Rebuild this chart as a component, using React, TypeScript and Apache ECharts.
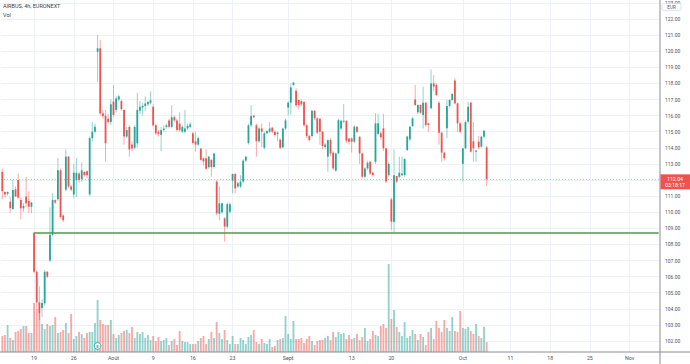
import React, { useEffect, useRef } from 'react';
import * as echarts from 'echarts';

// 4h candles, Airbus EURONEXT, [open, high, low, close]
const ohlc: number[][] = [
  [112.5, 112.7, 110.8, 111.3], [111.25, 111.3, 110.9, 111.1], [111.15, 111.3, 111.05, 111.25],
  [110.65, 110.95, 109.95, 110.25], [110.2, 112.0, 110.15, 111.38], [111.42, 111.6, 110.95, 110.97],
  [112.0, 112.4, 110.85, 110.9], [110.76, 110.9, 109.55, 110.24], [110.24, 110.55, 110.03, 110.39],
  [110.97, 112.2, 110.3, 110.55], [110.7, 111.3, 109.95, 110.34], [110.34, 110.65, 109.95, 110.6],
  [108.73, 108.73, 106.2, 106.3], [106.3, 106.4, 104.0, 104.4], [104.4, 105.4, 103.3, 103.7],
  [104.05, 104.6, 103.5, 104.36], [104.34, 106.4, 104.2, 106.3], [106.3, 106.35, 105.9, 106.0],
  [107.0, 110.3, 106.9, 108.6], [108.6, 111.2, 108.5, 110.76], [110.75, 110.8, 110.5, 110.6],
  [110.8, 113.35, 110.7, 112.6], [112.6, 112.7, 109.6, 109.7], [109.8, 109.85, 109.4, 109.5],
  [111.4, 113.9, 111.3, 113.45], [113.45, 113.5, 111.5, 111.6], [111.6, 111.7, 111.3, 111.4],
  [111.1, 113.0, 110.9, 112.45], [112.0, 113.35, 110.95, 112.45], [112.4, 112.5, 111.8, 112.0],
  [112.05, 113.1, 111.9, 112.6], [112.5, 112.55, 112.2, 112.3], [112.55, 112.6, 112.1, 112.3],
  [111.1, 114.7, 111.0, 114.6], [114.6, 115.6, 114.4, 115.0], [115.0, 115.5, 114.9, 115.3],
  [119.97, 121.0, 118.1, 120.18], [120.18, 120.7, 116.0, 116.14], [116.14, 116.35, 115.8, 115.97],
  [116.0, 116.35, 113.14, 114.28], [115.8, 116.1, 115.5, 115.6], [115.6, 117.0, 115.4, 116.7],
  [116.87, 117.9, 115.9, 116.04], [116.35, 117.2, 116.2, 117.07], [117.0, 117.3, 116.9, 117.2],
  [116.9, 117.0, 116.3, 116.4], [116.35, 116.4, 114.2, 114.7], [114.7, 115.3, 114.6, 115.1],
  [115.3, 115.4, 113.45, 113.9], [114.2, 114.4, 113.8, 113.95], [114.0, 115.4, 113.9, 115.3],
  [114.28, 117.4, 114.0, 116.35], [116.3, 116.9, 116.1, 116.55], [116.5, 116.8, 116.0, 116.6],
  [116.6, 117.2, 116.3, 116.75], [116.7, 116.9, 116.6, 116.85], [116.8, 117.5, 116.7, 116.95],
  [116.55, 116.7, 115.3, 115.4], [115.4, 115.5, 114.8, 114.9], [115.0, 115.1, 114.7, 114.85],
  [114.8, 115.3, 113.8, 115.1], [115.1, 115.4, 115.0, 115.2], [115.3, 115.5, 115.2, 115.4],
  [115.7, 115.8, 115.2, 115.3], [115.3, 116.65, 115.2, 115.9], [115.9, 116.0, 115.6, 115.7],
  [115.7, 115.8, 115.0, 115.1], [115.5, 116.2, 115.0, 115.1], [115.0, 115.4, 114.9, 115.3],
  [115.0, 116.35, 114.9, 115.2], [115.2, 115.5, 115.1, 115.37], [115.3, 115.6, 115.2, 115.46],
  [114.9, 115.0, 114.2, 114.3], [114.4, 115.0, 113.75, 114.2], [114.2, 114.7, 114.1, 114.6],
  [113.95, 114.0, 113.2, 113.25], [113.35, 113.4, 112.9, 113.15], [113.35, 113.9, 112.6, 112.7],
  [112.8, 113.5, 112.7, 113.45], [113.25, 113.3, 112.2, 112.8], [112.8, 113.7, 112.7, 113.65],
  [111.9, 112.0, 109.8, 109.93], [109.9, 111.6, 109.5, 110.55], [110.0, 110.6, 109.9, 110.55],
  [109.62, 109.7, 108.17, 109.1], [109.1, 110.6, 109.0, 110.5], [110.03, 110.6, 109.9, 110.5],
  [111.96, 112.4, 111.17, 112.37], [112.37, 112.45, 111.17, 111.48], [111.6, 111.9, 111.5, 111.8],
  [111.6, 112.3, 111.5, 111.9], [111.9, 113.3, 111.8, 113.2], [113.2, 113.5, 113.1, 113.45],
  [114.3, 115.5, 114.2, 115.4], [115.4, 116.65, 115.3, 115.97], [116.0, 116.05, 115.85, 115.9],
  [115.4, 115.5, 113.45, 114.4], [114.4, 115.3, 114.3, 115.2], [115.2, 115.5, 114.05, 115.0],
  [114.0, 115.0, 113.9, 114.9], [114.9, 115.1, 114.85, 115.05], [115.0, 115.6, 114.9, 115.2],
  [115.25, 115.3, 114.9, 115.0], [115.0, 115.1, 114.7, 114.8], [114.85, 115.0, 114.4, 114.95],
  [114.5, 114.6, 113.9, 114.0], [114.03, 115.25, 113.95, 115.2], [115.2, 115.8, 115.1, 115.7],
  [116.5, 116.9, 116.0, 116.8], [116.8, 118.0, 116.05, 117.75], [117.9, 118.1, 117.85, 118.05],
  [117.55, 117.7, 116.5, 116.65], [116.97, 117.0, 116.4, 116.65], [116.9, 117.0, 116.6, 116.7],
  [116.85, 116.9, 115.3, 115.4], [115.4, 115.5, 114.6, 114.73], [114.73, 114.8, 114.4, 114.48],
  [114.73, 116.35, 114.6, 116.3], [116.3, 116.35, 115.7, 115.83], [115.83, 115.9, 114.85, 114.94],
  [115.8, 115.85, 114.2, 115.0], [115.0, 115.05, 113.9, 114.11], [114.05, 114.3, 113.9, 114.2],
  [113.45, 114.5, 112.52, 114.48], [114.48, 114.6, 113.5, 113.65], [113.7, 113.8, 112.6, 112.72],
  [112.58, 113.7, 112.52, 113.65], [113.65, 115.8, 113.6, 115.72], [115.2, 115.75, 115.1, 115.68],
  [115.62, 116.72, 115.55, 115.68], [115.68, 115.7, 114.3, 114.44], [114.58, 114.6, 114.2, 114.38],
  [114.58, 114.65, 113.7, 114.38], [114.38, 115.4, 114.3, 115.31], [115.31, 115.35, 114.9, 115.0],
  [114.69, 114.7, 113.0, 113.65], [113.65, 113.7, 112.1, 112.2], [112.2, 112.8, 112.1, 112.72],
  [112.72, 113.2, 112.6, 113.07], [113.13, 113.2, 112.3, 112.41], [112.45, 112.5, 112.2, 112.3],
  [113.13, 116.15, 113.0, 115.52], [114.86, 116.1, 114.8, 115.52], [114.9, 115.0, 114.5, 114.65],
  [115.21, 116.1, 113.8, 113.97], [113.97, 114.0, 111.8, 111.9], [112.3, 113.1, 112.2, 113.0],
  [110.8, 110.9, 108.9, 109.41], [109.41, 113.9, 108.73, 112.3], [112.25, 112.25, 111.8, 111.9],
  [112.2, 113.45, 112.1, 112.45], [112.3, 113.45, 112.25, 112.4], [112.3, 113.35, 112.2, 113.3],
  [113.86, 114.75, 113.8, 114.7], [114.53, 115.35, 114.4, 115.31], [115.35, 115.9, 115.3, 115.83],
  [117.0, 117.9, 116.6, 116.66], [116.2, 116.7, 116.1, 116.66], [116.66, 116.7, 116.1, 116.18],
  [116.04, 117.8, 115.2, 116.8], [116.8, 116.85, 115.3, 115.42], [115.52, 115.55, 115.0, 115.42],
  [116.45, 118.87, 116.4, 118.0], [118.0, 118.5, 117.5, 117.8], [117.9, 118.0, 117.2, 117.28],
  [116.8, 116.9, 114.2, 114.94], [114.94, 115.0, 113.13, 113.7], [113.7, 113.75, 113.2, 113.35],
  [115.21, 116.97, 114.6, 116.6], [116.6, 117.0, 116.5, 116.97], [116.97, 117.4, 116.9, 117.34],
  [118.17, 118.32, 116.7, 116.76], [116.76, 116.8, 115.0, 115.52], [115.52, 115.6, 114.9, 115.0],
  [113.0, 114.0, 111.9, 113.97], [113.97, 115.7, 113.9, 115.6], [115.62, 116.86, 115.5, 116.55],
  [116.8, 116.86, 113.7, 113.76], [114.4, 115.6, 113.13, 113.97], [113.76, 113.86, 113.13, 113.83],
  [114.38, 114.73, 113.9, 114.03], [114.07, 114.75, 114.0, 114.69], [114.69, 115.1, 114.6, 115.06],
  [114.03, 114.1, 111.63, 112.04],
];

// volume (relative units, 10k shares)
const volumes: number[] = [
  16, 17, 27, 14, 12, 20, 21, 23, 26, 26, 19, 19,
  49, 43, 38, 28, 23, 28, 26, 27, 35, 19, 20, 22,
  29, 19, 38, 13, 16, 20, 18, 14, 19, 20, 20, 29,
  52, 32, 28, 27, 27, 32, 18, 14, 17, 19, 21, 22,
  19, 25, 14, 20, 18, 20, 14, 17, 12, 16, 11, 15,
  11, 12, 14, 7, 11, 13, 7, 21, 11, 10, 10, 8,
  8, 8, 11, 14, 16, 8, 13, 20, 14, 30, 19, 13,
  22, 12, 8, 16, 8, 8, 14, 12, 8, 15,
  17, 22, 10, 8, 13, 9, 8, 13, 5, 6, 12, 13,
  14, 36, 18, 13, 31, 13, 13, 14, 9, 13, 16, 11,
  7, 11, 12, 12, 14, 16, 12, 20, 15, 20, 18, 19,
  13, 17, 13, 14, 18, 12, 15, 24, 11, 13, 21, 17,
  16, 26, 28, 24, 88, 33, 42, 25, 20, 16, 30, 14,
  16, 22, 18, 12, 18, 15, 7, 20, 24, 13, 31, 24,
  20, 32, 24, 21, 35, 21, 20, 41, 24, 23, 25, 21,
  18, 28, 16, 14, 25, 10,
];

// time-axis ticks: bar slot (3 bars per trading day from 13 Jul 2021) and label
const tickSlots: number[] = [12, 27, 42, 57, 72, 87, 108, 132, 147, 174, 192, 207, 222, 237];
const tickLabels: string[] = ['19', '26', 'Août', '9', '16', '23', 'Sept', '13', '20', 'Oct', '11', '18', '25', 'Nov'];
const totalSlots = 249;

const supportLevel = 108.73;
const supportStartSlot = 12;
const earningsSlot = 36;
const countdown = '03:18:17';

const UP = '#26a69a';
const DOWN = '#ef5350';
const FONT = 'Roboto, "DejaVu Sans", sans-serif';

export default function App() {
  const ref = useRef<HTMLDivElement>(null);

  useEffect(() => {
    const el = ref.current!;
    const chart = echarts.init(el, undefined, { renderer: 'svg' });

    const labelOf: string[] = Array.from({ length: totalSlots }, () => '');
    tickSlots.forEach((s, k) => { labelOf[s] = tickLabels[k]; });
    const cats = labelOf.map((_, i) => 'b' + i);
    const lastClose = ohlc[ohlc.length - 1][3];
    const volMax = Math.max(...volumes) * 4;

    const candleData = ohlc.map((d, i) => [i, d[0], d[1], d[2], d[3]]);
    const volData = volumes.map((v, i) => {
      const up = ohlc[i][3] >= ohlc[i][0];
      return { value: v, itemStyle: { color: up ? 'rgba(38,166,154,0.5)' : 'rgba(239,83,80,0.5)' } };
    });

    const option: any = {
      animation: false,
      backgroundColor: '#ffffff',
      grid: [
        { left: 1, right: 30, top: -13.2, height: 370.3, containLabel: false, outerBoundsMode: 'none' },
        { left: 1, right: 30, top: 0, height: 352, containLabel: false, outerBoundsMode: 'none' },
      ],
      xAxis: [
        {
          type: 'category', gridIndex: 0, data: cats, boundaryGap: true,
          axisLine: { show: false }, axisTick: { show: false }, axisLabel: { show: false }, splitLine: { show: false },
        },
        {
          type: 'category', gridIndex: 1, data: cats, boundaryGap: true,
          axisLine: { show: false }, axisTick: { show: false },
          axisLabel: {
            interval: (index: number) => labelOf[index] !== '',
            formatter: (_v: string, index: number) => labelOf[index],
            fontSize: 5.3, color: '#50535e', margin: 3.5, fontFamily: FONT, hideOverlap: false,
          },
          splitLine: { show: false },
        },
      ],
      yAxis: [
        {
          type: 'value', gridIndex: 0, position: 'right', min: 101, max: 124, interval: 1,
          axisLine: { show: false }, axisTick: { show: false },
          axisLabel: {
            formatter: (v: number) => (Math.abs(v - lastClose) < 0.6 ? '' : v.toFixed(2)),
            fontSize: 5, color: '#50535e', margin: 5,
            fontFamily: FONT, showMinLabel: false, showMaxLabel: false,
          },
          splitLine: { show: true, showMinLine: false, showMaxLine: false, lineStyle: { color: '#eef1f6', width: 1 } },
        },
        {
          type: 'value', gridIndex: 1, min: 0, max: volMax, show: false,
          splitLine: { show: false },
        },
      ],
      series: [
        {
          type: 'bar', xAxisIndex: 1, yAxisIndex: 1, data: volData, barWidth: '70%', z: 1,
          markLine: {
            silent: true, symbol: ['none', 'none'], label: { show: false },
            lineStyle: { color: '#eef1f6', width: 1, type: 'solid' },
            data: tickSlots.map((s) => ({ xAxis: s })),
            z: 0,
          },
        },
        {
          type: 'custom', xAxisIndex: 0, yAxisIndex: 0, data: candleData, z: 3,
          encode: { x: 0, y: [1, 2, 3, 4] },
          renderItem: (_p: any, api: any) => {
            const i = api.value(0);
            const o = api.value(1), h = api.value(2), l = api.value(3), c = api.value(4);
            const up = c >= o;
            const pO = api.coord([i, o]);
            const pC = api.coord([i, c]);
            const pH = api.coord([i, h]);
            const pL = api.coord([i, l]);
            const w = api.size([1, 0])[0] * 0.68;
            const x = pO[0];
            const top = Math.min(pO[1], pC[1]);
            const bh = Math.max(Math.abs(pO[1] - pC[1]), 0.8);
            return {
              type: 'group',
              children: [
                {
                  type: 'line',
                  shape: { x1: x, y1: pH[1], x2: x, y2: pL[1] },
                  style: { stroke: up ? 'rgba(38,166,154,0.55)' : 'rgba(239,83,80,0.55)', lineWidth: 0.9 },
                },
                {
                  type: 'rect',
                  shape: { x: x - w / 2, y: top, width: w, height: bh },
                  style: { fill: up ? UP : DOWN },
                },
              ],
            };
          },
        },
        {
          type: 'line', xAxisIndex: 0, yAxisIndex: 0, data: [], z: 2,
          markLine: {
            silent: true, symbol: ['none', 'none'], label: { show: false },
            data: [
              [
                { coord: [supportStartSlot, supportLevel], lineStyle: { color: '#43a047', width: 1.6, type: 'solid' } },
                { coord: [totalSlots - 1, supportLevel] },
              ],
              { yAxis: lastClose, lineStyle: { color: 'rgba(239,83,80,0.45)', width: 1, type: [1, 2] } },
            ],
          },
        },
      ],
    };

    chart.setOption(option);

    const yC = chart.convertToPixel({ yAxisIndex: 0 }, lastClose) as number;
    const xE = chart.convertToPixel({ xAxisIndex: 1 }, earningsSlot) as number;

    chart.setOption({
      graphic: [
        { type: 'line', shape: { x1: 0, y1: 352, x2: 690, y2: 352 }, style: { stroke: '#8a8d96', lineWidth: 1 }, z: 50 },
        { type: 'line', shape: { x1: 660, y1: 0, x2: 660, y2: 364 }, style: { stroke: '#8a8d96', lineWidth: 1 }, z: 50 },
        { type: 'text', x: 3, y: 6, style: { text: 'AIRBUS, 4h, EURONEXT', fill: '#3d404a', font: `5.5px ${FONT}`, verticalAlign: 'middle' }, z: 50 },
        { type: 'text', x: 3, y: 14.5, style: { text: 'Vol', fill: '#3d404a', font: `5.5px ${FONT}`, verticalAlign: 'middle' }, z: 50 },
        { type: 'rect', shape: { x: 662, y: 3.5, width: 19, height: 7, r: 1.5 }, style: { fill: '#ffffff', stroke: '#c9cbd1', lineWidth: 0.5 }, z: 50 },
        { type: 'text', x: 671.5, y: 7, style: { text: 'EUR', fill: '#50535e', font: `4.6px ${FONT}`, align: 'center', verticalAlign: 'middle' }, z: 51 },
        { type: 'rect', shape: { x: 660.5, y: yC - 5, width: 29.5, height: 15 }, style: { fill: DOWN }, z: 50 },
        { type: 'text', x: 675, y: yC - 0.8, style: { text: lastClose.toFixed(2), fill: '#ffffff', font: `5.2px ${FONT}`, align: 'center', verticalAlign: 'middle' }, z: 51 },
        { type: 'text', x: 675, y: yC + 5.2, style: { text: countdown, fill: '#ffffff', font: `5.2px ${FONT}`, align: 'center', verticalAlign: 'middle' }, z: 51 },
        { type: 'circle', shape: { cx: xE, cy: 346, r: 3.4 }, style: { fill: '#ffffff', stroke: UP, lineWidth: 0.9 }, z: 50 },
        { type: 'text', x: xE, y: 346.3, style: { text: 'E', fill: UP, font: `bold 4.4px ${FONT}`, align: 'center', verticalAlign: 'middle' }, z: 51 },
      ],
    });

    return () => chart.dispose();
  }, []);

  return (
    <div
      ref={ref}
      style={{ position: 'fixed', left: 0, top: 0, width: 690, height: 364, background: '#ffffff' }}
    />
  );
}
